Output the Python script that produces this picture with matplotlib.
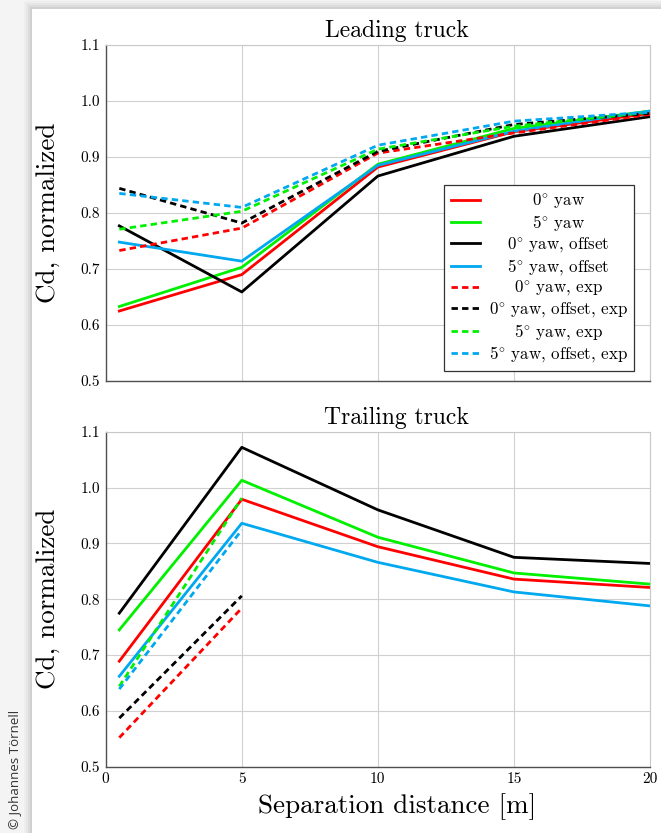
import matplotlib
matplotlib.use("Agg")
import matplotlib.pyplot as plt
import numpy as np
from matplotlib.patches import Rectangle

plt.rcParams['font.family'] = ['cmr10', 'DejaVu Serif']
plt.rcParams['axes.formatter.use_mathtext'] = True
plt.rcParams['mathtext.fontset'] = 'cm'

# ---------------- data ----------------
x = [0.5, 5, 10, 15, 20]

lead_0yaw = [0.625, 0.690, 0.882, 0.945, 0.978]
lead_5yaw = [0.633, 0.703, 0.887, 0.951, 0.982]
lead_0yaw_off = [0.777, 0.659, 0.866, 0.937, 0.972]
lead_5yaw_off = [0.748, 0.714, 0.885, 0.946, 0.982]
lead_0yaw_exp = [0.733, 0.773, 0.907, 0.943, 0.976]
lead_0yaw_off_exp = [0.844, 0.782, 0.910, 0.958, 0.978]
lead_5yaw_exp = [0.771, 0.803, 0.914, 0.955, 0.980]
lead_5yaw_off_exp = [0.835, 0.810, 0.921, 0.964, 0.980]

trail_0yaw = [0.689, 0.979, 0.894, 0.836, 0.821]
trail_5yaw = [0.745, 1.013, 0.911, 0.847, 0.827]
trail_0yaw_off = [0.775, 1.072, 0.960, 0.875, 0.864]
trail_5yaw_off = [0.662, 0.936, 0.866, 0.813, 0.788]
trail_0yaw_exp = [0.552, 0.784, np.nan, np.nan, np.nan]
trail_0yaw_off_exp = [0.587, 0.806, np.nan, np.nan, np.nan]
trail_5yaw_exp = [0.644, 0.981, np.nan, np.nan, np.nan]
trail_5yaw_off_exp = [0.639, 0.924, np.nan, np.nan, np.nan]

labels = ['0$^{\\circ}$ yaw', '5$^{\\circ}$ yaw', '0$^{\\circ}$ yaw, offset',
          '5$^{\\circ}$ yaw, offset', '0$^{\\circ}$ yaw, exp', '0$^{\\circ}$ yaw, offset, exp',
          '5$^{\\circ}$ yaw, exp', '5$^{\\circ}$ yaw, offset, exp']
titles = ['Leading truck', 'Trailing truck']
y_ticks = [0.5, 0.6, 0.7, 0.8, 0.9, 1.0, 1.1]
x_ticks = [0, 5, 10, 15, 20]

RED, GREEN, BLACK, BLUE = '#ff0000', '#00f000', '#000000', '#00a8f0'
styles = [(RED, '-'), (GREEN, '-'), (BLACK, '-'), (BLUE, '-'),
          (RED, '--'), (BLACK, '--'), (GREEN, '--'), (BLUE, '--')]

lead = [lead_0yaw, lead_5yaw, lead_0yaw_off, lead_5yaw_off,
        lead_0yaw_exp, lead_0yaw_off_exp, lead_5yaw_exp, lead_5yaw_off_exp]
trail = [trail_0yaw, trail_5yaw, trail_0yaw_off, trail_5yaw_off,
         trail_0yaw_exp, trail_0yaw_off_exp, trail_5yaw_exp, trail_5yaw_off_exp]

W, H = 661, 833
fig = plt.figure(figsize=(W / 100, H / 100), dpi=100)
fig.patch.set_facecolor('#f4f4f4')
# soft shadow + white page
for i, a in enumerate([0.025, 0.03, 0.04, 0.05]):
    off = 8 - 2 * i
    fig.patches.append(Rectangle(((32 - off) / W, 0), 1, (H - 9 + off) / H,
                                 transform=fig.transFigure, facecolor='black',
                                 alpha=a, edgecolor='none', zorder=-3))
fig.patches.append(Rectangle((32 / W, 0), 1, (H - 9) / H, transform=fig.transFigure,
                             facecolor='white', edgecolor='none', zorder=-2))

fig.text(15 / W, 1 - 769 / H, '© Johannes Törnell', rotation=90, ha='center', va='center',
         family=['Open Sans', 'DejaVu Sans'], fontsize=9.5, color='#333333')

ax1 = fig.add_axes([105.7 / W, 1 - 381 / H, 544.3 / W, 336 / H])
ax2 = fig.add_axes([105.7 / W, 1 - 766.7 / H, 544.3 / W, 335 / H])

for ax, data, title in [(ax1, lead, titles[0]), (ax2, trail, titles[1])]:
    for (c, ls), y, lab in zip(styles, data, labels):
        kw = dict(color=c, lw=2.0, label=lab)
        if ls == '--':
            kw['dashes'] = (2.3, 1.5)
        ax.plot(x, y, **kw)
    ax.set_xlim(0, 20)
    ax.set_ylim(0.5, 1.1)
    ax.set_xticks(x_ticks)
    ax.set_yticks(y_ticks)
    ax.set_yticklabels([f'{v:.1f}' for v in y_ticks])
    ax.grid(True, color='#d0d0d0', lw=0.8)
    ax.set_axisbelow(True)
    ax.tick_params(length=0, labelsize=11, pad=4)
    for s in ['top', 'right']:
        ax.spines[s].set_color('#c8c8c8')
    for s in ['left', 'bottom']:
        ax.spines[s].set_color('#505050')
        ax.spines[s].set_linewidth(1.0)
    ax.set_ylabel('Cd, normalized', fontsize=19.5, labelpad=15)
    ax.set_title(title, fontsize=17, x=0.535, pad=5.5)

ax1.set_xticklabels([])
ax2.set_xticklabels([str(v) for v in x_ticks])
ax2.set_xlabel('Separation distance [m]', fontsize=19.5, labelpad=5, x=0.535)

leg = ax1.legend(loc='lower right', bbox_to_anchor=(0.971, 0.030), borderaxespad=0,
                 fontsize=12.2, frameon=True, fancybox=False, edgecolor='#333333',
                 framealpha=1, handlelength=1.75, labelspacing=0.14, borderpad=0.38,
                 handletextpad=0.5)
leg.get_frame().set_linewidth(0.9)
fig.canvas.draw()
renderer = fig.canvas.get_renderer()
widths = [t.get_window_extent(renderer).width for t in leg.get_texts()]
wmax = max(widths)
for t, w in zip(leg.get_texts(), widths):
    t.set_position(((wmax - w) / 2, 0))

fig.savefig('out.png', dpi=100)
